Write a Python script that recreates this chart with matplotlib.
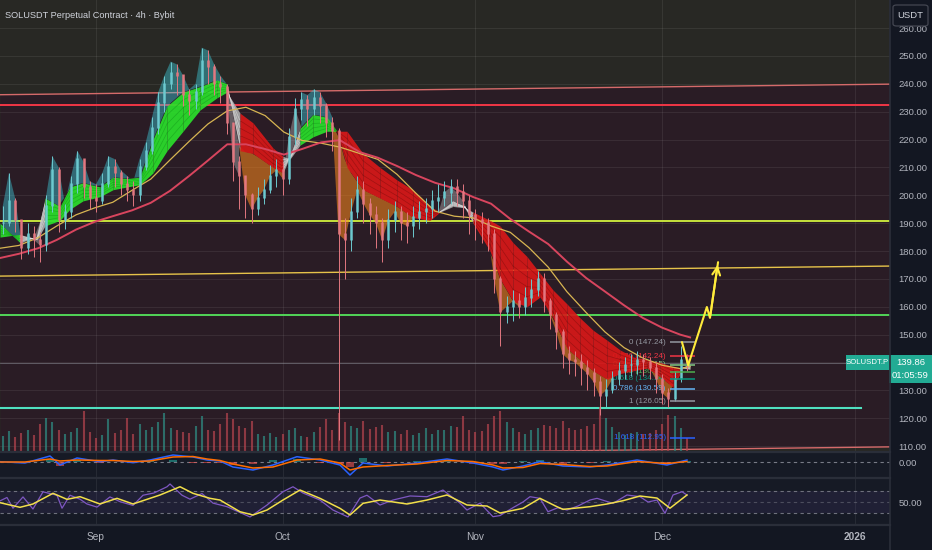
import matplotlib
matplotlib.use("Agg")
import matplotlib.pyplot as plt
import matplotlib.dates as mdates
import numpy as np
from datetime import datetime
from matplotlib.patches import Rectangle, FancyBboxPatch
from matplotlib.lines import Line2D

plt.rcParams['font.family'] = ['Liberation Sans Narrow', 'Liberation Sans', 'DejaVu Sans']

# ---------------- data ----------------
start_date = datetime(2025, 8, 17)   # day 0 of the daily series

close = [190,198,191,181,186,184,182,196,209,191,
         194,204,213,203,199,198,204,210,208,204,
         202,200,210,216,224,233,240,244,243,236,
         234,237,248,246,240,239,226,212,207,200,
         195,199,202,207,209,206,221,231,234,231,
         235,232,226,223,186,184,194,202,197,193,
         190,184,191,194,190,189,192,194,195,198,
         199,201,203,201,198,193,191,190,186,170,
         158,160,162,160,163,166,170,162,157,151,
         143,141,140,138,136,133,128,130,134,137,
         139,139,141,140,138,134,129,127,134,141,139.86]
high = [196,208,199,190,190,189,187,200,214,210,
        197,207,216,212,205,204,208,214,213,209,
        207,205,213,219,228,237,243,248,247,243,
        238,240,253,252,247,243,240,226,214,207,
        201,203,206,211,213,212,224,235,237,236,
        238,237,233,228,224,192,199,207,205,199,
        196,192,195,198,196,194,196,198,199,202,
        204,205,206,206,204,200,195,194,192,188,
        171,164,166,165,167,170,173,172,163,158,
        152,146,144,143,141,138,135,134,137,140,
        142,143,144,143,142,140,136,131,137,146,143]
low = [186,189,187,177,179,178,176,180,194,187,
       188,192,201,199,195,194,197,203,203,200,
       198,196,198,209,215,222,230,238,236,232,
       229,231,236,240,236,233,222,205,195,192,
       190,193,197,201,203,200,204,218,227,225,
       229,226,221,216,112,170,180,192,190,186,
       181,176,181,187,184,183,185,188,190,192,
       194,196,197,196,192,186,184,183,180,165,
       146,154,155,156,157,160,164,158,152,145,
       138,136,135,132,130,128,121,124,129,132,
       134,135,136,135,134,129,125,124,126,133,137]
volume = [16,21,15,19,22,17,28,34,30,22,
          18,20,24,41,20,14,17,33,19,22,
          34,18,28,22,25,30,39,24,22,20,
          19,26,36,22,21,28,39,33,26,24,
          31,18,16,19,15,18,22,24,16,15,
          20,25,33,22,39,30,26,24,31,23,
          25,27,20,21,18,22,17,19,24,18,
          22,22,26,25,36,22,20,21,28,36,
          41,30,24,20,18,22,24,27,26,24,
          31,24,22,23,26,28,45,34,25,20,
          17,19,20,18,19,22,28,37,36,24,14]

ma_days = [-0.4,2.6,5.7,8.7,11.8,14.8,17.7,20.8,23.8,26.9,30,33,36.1,39.1,42.2,45.2,48.1,51.2,54.2,
           57.4,60.3,63.4,66.4,69.5,72.6,75.6,78.5,81.6,84.6,87.7,90.7,93.8,96.8,99.9,102.9,106,108.9,110.5]
ema_yellow = [181,182,184.8,189,193,195.5,197.5,201.8,205.8,212.7,219.4,225.6,230.3,231.6,228.6,222.7,
              219.7,218.7,217.3,215,212.9,207.5,200.8,194.3,192.5,191.9,189,186.7,181.2,174.2,165.4,
              157.9,151,145.3,141.6,139,137.8,138.5]
ema_red = [177.5,179,181,184,187.7,190.5,192.5,194.6,197.3,201.6,207,212.5,218.3,218.3,216.6,214.6,
           216.6,219,219.8,215.5,213.5,210.5,207.3,204.5,202.5,199.4,197,191.5,187,182.5,176.2,170.3,
           165.5,160.5,156,152.5,150,149]

rib_days = [-0.43,2.78,5.52,6.80,9.22,10.82,12.91,15.65,17.73,19.98,22.07,24.16,26.42,28.99,31.72,
            34.45,36.06,38.15,40.24,43.45,45.06,46.19,47.80,49.89,52.14,53.74,55.35,57.92,60.66,
            63.39,65.96,68.70,70.30,72.39,74.32,75.61,78.34,79.95,82.04,84.29,86.38,88.47,90.72,
            92.81,94.90,97.15,99.24,101.33,103.58,105.67,107.76,109.36,110.49]
rib_fast = [190,183,185,199,196,203,204.5,203,206.5,206,206.5,220,232,237,239,241.4,240,216,215,210,
            208,214,224,229,228,223,210,202,199,196,192,191,194,198,196,190,180,170,162,160,163.5,
            156,145,141,137,134,136,137,138,135,131,138,139.5]
rib_slow = [185,186,184,189,191,195,198,199.5,202,203,203.8,208,216,223,230.6,235,237,229.5,226,217,
            214,213,218,221,223,223,223,215,210,205.5,202,196,194,196,195.5,194,191,189,183,178,172,
            166,161,156,151.6,148,144.5,142,141,140,138.5,138,137.5]
rib_trend = ['g','w','w','g','g','g','g','g','g','g','g','g','g','g','g','g','w','r','r','r',
             'w','w','g','g','g','r','r','r','r','r','r','r','w','w','w','r','r','r','r','r',
             'r','r','r','r','r','r','r','r','r','r','r','w','w']

macd_days = [-0.43,3.59,7.61,9.21,11.95,15.64,17.73,20.95,23.68,27.38,30.59,32.85,34.93,37.02,40.24,
             43.45,47.31,51.01,54.22,55.83,57.92,61.78,66.60,71.43,75.60,78.82,80.43,83.64,86.37,
             90.07,94.41,97.15,101.97,106.79,110.0]
macd_line = [0.3,-1,6,-3,4,0.3,2,-0.7,2,7,5,2,1,-5,-8,-3,5.3,2,-3,-13,-1,-4,-1,3,-1,-5,-8,-4,0.3,
             -4,-5,-3,2,-3,2]
macd_signal = [0,0,3,1,2,1.5,1.5,0.5,1,5,5.5,3,1.5,-2,-6,-5,2,3,-1,-8,-5,-3.5,-2,1.5,0.5,-3,-6,
               -5.5,-1.5,-2.5,-4.5,-4,0.5,-1.5,0.5]

rsi_days = [-0.43,0.69,1.66,3.27,4.87,6.48,8.73,9.54,10.82,12.43,13.55,15.16,17.25,18.86,20.95,
            22.56,24.33,26.42,26.90,28.83,30.11,32.04,33.81,36.06,39.76,42.49,45.06,46.67,48.28,
            51.01,53.10,55.51,57.44,58.56,60.66,62.74,65.48,68.21,70.78,73.51,74.64,76.73,78.82,
            79.95,82.04,83.64,84.77,86.37,87.66,89.27,90.72,92.48,94.41,95.54,96.83,98.11,100.36,
            102.45,103.74,105.18,106.47,107.76,109.20,110.0]
rsi_vals = [52,58,39,59,37.6,68,62,39,62,55,46.5,41,59,50.6,44,62,66,77,81.9,62,55,65,48,41.7,23.5,
            44.7,68.2,77,65.9,53.5,35.8,23.5,57,62,44.7,53.5,60.7,59.4,71.2,48,35.8,48,24,26,40,50,
            59.4,56.5,32.8,40,35.8,43,53.5,56.5,52,47.6,62.4,59.4,50,53.5,30,62.4,68.2,62.4]
rsi_ma_days = [-0.43,2.78,4.87,8.09,10.34,12.43,15.64,18.38,20.95,23.68,25.29,28.51,30.59,33.33,
               34.93,38.15,40.24,42.49,45.06,47.80,51.01,54.22,55.83,57.92,60.66,65.00,68.21,71.43,
               74.64,77.86,79.95,83.64,86.37,89.10,90.07,94.41,97.15,99.72,102.45,105.18,107.27,110.0]
rsi_ma_vals = [48.8,40.6,46.5,65.4,54.7,59.4,46.5,56.5,46.5,56.5,62.4,77,65.4,56.5,53.5,32.8,27,35.8,
               53.5,71.2,56.5,38.8,27,47.6,53.5,46.5,53.5,62.4,44.7,42.9,30.5,38.8,56.5,41.7,37,41.7,
               46.5,52.3,60.6,57,39,62.4]

# drawn levels / trend lines
chan_days = [-0.43, 142.64]
chan_top = [236.1, 239.9]
chan_bot = [105.8, 109.7]
gold_days = [-0.43, 142.64]
gold_vals = [171.0, 174.6]
red_level = 232.3
yellowgreen_level = 190.8
green_level = 157.1
teal_level = 123.6
teal_end_day = 138.0
last_price = 139.86

fib_ratios = ['0', '0.236', '0.382', '0.5', '0.618', '0.786', '1', '1.618']
fib_prices = [147.24, 142.24, 139.15, 136.65, 134.14, 130.59, 126.05, 112.95]
fib_colors = ['#9598a1', '#f23645', '#81c784', '#4caf50', '#089981', '#64b5f6', '#9598a1', '#2962ff']

arrow_days = [109.2, 110.2, 113.2, 113.7, 115.0]
arrow_prices = [147.3, 139.0, 159.9, 156.0, 176.0]

tick_dates = ['2025-09-01', '2025-10-01', '2025-11-01', '2025-12-01', '2026-01-01']
tick_labels = ['Sep', 'Oct', 'Nov', 'Dec', '2026']
price_ticks = list(range(110, 261, 10))

# ---------------- figure ----------------
W, H = 932, 550
fig = plt.figure(figsize=(W / 100, H / 100), dpi=100, facecolor='#131722')

def box(x0, y0, x1, y1):
    return [x0 / W, 1 - y1 / H, (x1 - x0) / W, (y1 - y0) / H]

def fx(x):
    return x / W

def fy(y):
    return 1 - y / H

X0 = mdates.date2num(start_date)
XL = (X0 - 0.43, X0 + 142.64)
month_x = [mdates.date2num(datetime.strptime(s, '%Y-%m-%d')) for s in tick_dates]

ax = fig.add_axes(box(0, 0, 890, 452))
ax_m = fig.add_axes(box(0, 452, 890, 478))
ax_r = fig.add_axes(box(0, 478, 890, 525))

for a in (ax, ax_m, ax_r):
    a.set_xlim(*XL)
    for s in a.spines.values():
        s.set_visible(False)
    a.set_xticks(month_x)
    a.grid(axis='x', color='#ffffff', alpha=0.07, lw=0.8)
    a.set_axisbelow(True)

ax.set_facecolor('#282824')
ax_m.set_facecolor('#161a25')
ax_r.set_facecolor('#161a25')

# ---------------- main price panel ----------------
ax.set_ylim(107.86, 270.10)
ax.set_yticks(price_ticks)
# the 140.00 label sits under the last-price tag in the reference
ax.set_yticklabels(['' if abs(v - last_price) < 4 else f'{v:.2f}' for v in price_ticks])
ax.tick_params(axis='y', left=False, right=False, labelleft=False, labelright=True,
               length=0, pad=6, labelsize=6.8, labelcolor='#b2b5be')
ax.tick_params(axis='x', length=0, labelbottom=False)
ax.grid(axis='y', color='#ffffff', alpha=0.07, lw=0.8)

cx = X0 + np.array(chan_days)
ax.fill_between(cx, chan_bot, chan_top, color='#2a1c25', lw=0, zorder=0.2)
ax.plot(cx, chan_top, color='#d56a6a', lw=1.0, zorder=1)
ax.plot(cx, chan_bot, color='#d56a6a', lw=1.0, zorder=1)
ax.axhline(red_level, color='#f23645', lw=1.4, zorder=1)
ax.axhline(yellowgreen_level, color='#c6e23c', lw=1.4, zorder=1)
ax.plot(X0 + np.array(gold_days), gold_vals, color='#e6c34a', lw=1.0, zorder=1)
ax.axhline(green_level, color='#52d658', lw=1.4, zorder=1)
ax.plot([X0 - 0.43, X0 + teal_end_day], [teal_level, teal_level], color='#4fe0c0', lw=1.5, zorder=1)
ax.axhline(last_price, color='#9598a1', lw=0.6, alpha=0.6, zorder=1)

close = np.array(close, float)
high = np.array(high, float)
low = np.array(low, float)
volume = np.array(volume, float)
days = np.arange(len(close))
X = X0 + days
opn = np.r_[close[0], close[:-1]]
up = close >= opn

# volume (bottom of the price panel)
vcol = np.where(up, '#2f8f86', '#b8454f')
ax.vlines(X, 0, volume / 452.0, transform=ax.get_xaxis_transform(), colors=vcol,
          lw=1.5, alpha=0.7, zorder=1.5)

# hatching between price and ribbon
rd = np.array(rib_days)
ra = np.array(rib_fast, float)
rb = np.array(rib_slow, float)
a_d = np.interp(days, rd, ra)
seg = np.clip(np.searchsorted(rd, days, side='right') - 1, 0, len(rd) - 2)
tr = np.array(rib_trend)[seg]
ax.fill_between(X, a_d, high, where=(tr == 'g') & (high > a_d), interpolate=True,
                color='#3fd2e2', alpha=0.42, lw=0, zorder=2.4)
ax.fill_between(X, a_d, close, where=(tr == 'r') & (close < a_d), interpolate=True,
                color='#ff8a1c', alpha=0.55, lw=0, zorder=2.4)
ax.fill_between(X, a_d, close, where=(tr == 'w'), interpolate=True,
                color='#d8d8d8', alpha=0.35, lw=0, zorder=2.4)

# fib labels (behind candles)
for r, p, c in zip(fib_ratios, fib_prices, fib_colors):
    ax.text(X0 + 106.6, p, f'{r} ({p:.2f})', ha='right', va='center', color=c,
            fontsize=5.8, zorder=2.6)

# ribbon
rx = X0 + rd
fillc = {'g': '#2be02b', 'r': '#d81818', 'w': '#a9a9a9'}
linec = {'g': '#12961a', 'r': '#7d0c0c', 'w': '#efefef'}
for i in range(len(rx) - 1):
    t = rib_trend[i]
    xs = rx[i:i + 2]
    a2 = ra[i:i + 2]
    b2 = rb[i:i + 2]
    ax.fill_between(xs, a2, b2, color=fillc[t], lw=0, alpha=0.92, zorder=3)
    for f in (0.2, 0.4, 0.6, 0.8):
        ax.plot(xs, a2 + f * (b2 - a2), color=linec[t], lw=0.5, alpha=0.55, zorder=3.1)

# moving averages
mx = X0 + np.array(ma_days)
ax.plot(mx, ema_yellow, color='#d8b552', lw=0.9, zorder=3.5)
ax.plot(mx, ema_red, color='#d8455e', lw=1.4, zorder=3.5)

# candles
ccol = np.where(up, '#6cc9cf', '#e27780')
ax.vlines(X, low, high, colors=ccol, lw=0.7, zorder=4)
ax.vlines(X, np.minimum(opn, close), np.maximum(opn, close) + 0.4, colors=ccol, lw=1.8, zorder=4)

# fib lines
ax.hlines(fib_prices, X0 + 107.3, X0 + 111.3, colors=fib_colors, lw=1.1, zorder=5)

# projected path
axd = X0 + np.array(arrow_days)
ax.plot(axd, arrow_prices, color='#ffeb3b', lw=1.5, zorder=6, solid_capstyle='round')
ax.annotate('', xy=(axd[-1], arrow_prices[-1]), xytext=(axd[-2], arrow_prices[-2]),
            arrowprops=dict(arrowstyle='->', color='#ffeb3b', lw=1.5, mutation_scale=14),
            zorder=6)

# ---------------- MACD panel ----------------
ax_m.set_ylim(-16, 10)
ax_m.axhline(0, color='#787b86', lw=0.8, ls=(0, (3, 3)), zorder=1)
mdx = X0 + np.array(macd_days)
hist = np.array(macd_line) - np.array(macd_signal)
ax_m.bar(mdx, hist, width=1.2, color=np.where(hist >= 0, '#26a69a', '#ef5350'), alpha=0.6, zorder=2)
ax_m.plot(mdx, macd_line, color='#2962ff', lw=1.1, zorder=3)
ax_m.plot(mdx, macd_signal, color='#ff6d00', lw=1.1, zorder=3)
ax_m.set_yticks([0])
ax_m.set_yticklabels(['0.00'])
ax_m.tick_params(axis='y', left=False, labelleft=False, labelright=True, length=0, pad=6,
                 labelsize=6.8, labelcolor='#b2b5be')
ax_m.tick_params(axis='x', length=0, labelbottom=False)

# ---------------- RSI panel ----------------
ax_r.set_ylim(9.3, 92.5)
ax_r.axhspan(30, 70, color='#7e57c2', alpha=0.1, lw=0, zorder=0.6)
for lvl, al in ((70, 0.9), (50, 0.5), (30, 0.9)):
    ax_r.axhline(lvl, color='#787b86', lw=0.8, ls=(0, (3, 3)), alpha=al, zorder=1)
ax_r.plot(X0 + np.array(rsi_days), rsi_vals, color='#7e57c2', lw=0.9, zorder=2)
ax_r.plot(X0 + np.array(rsi_ma_days), rsi_ma_vals, color='#f2df4a', lw=1.1, zorder=3)
ax_r.set_yticks([50])
ax_r.set_yticklabels(['50.00'])
ax_r.tick_params(axis='y', left=False, labelleft=False, labelright=True, length=0, pad=6,
                 labelsize=6.8, labelcolor='#b2b5be')
ax_r.set_xticklabels(tick_labels)
ax_r.tick_params(axis='x', length=0, pad=5, labelsize=7.3, labelcolor='#b2b5be')
ax_r.get_xticklabels()[-1].set_fontweight('bold')

# ---------------- separators & overlays ----------------
for yy in (452, 478, 525):
    fig.add_artist(Line2D([0, fx(890)], [fy(yy), fy(yy)], transform=fig.transFigure,
                          color='#2a2e39', lw=1.6))
fig.add_artist(Line2D([fx(890), fx(890)], [0, 1], transform=fig.transFigure,
                      color='#2a2e39', lw=1.2))

fig.text(fx(5), fy(15), 'SOLUSDT Perpetual Contract · 4h · Bybit', fontsize=6.6,
         color='#d1d4dc', va='center', ha='left')

fig.add_artist(FancyBboxPatch((fx(893), fy(26)), fx(35), 21 / H,
                              boxstyle='round,pad=0,rounding_size=0.004',
                              transform=fig.transFigure, fc='#131722', ec='#434651', lw=0.9))
fig.text(fx(910.5), fy(15.5), 'USDT', fontsize=6.8, color='#d1d4dc', ha='center', va='center')

fig.add_artist(Rectangle((fx(846), fy(370)), fx(43), 15 / H, transform=fig.transFigure,
                         fc='#22ab94', ec='none'))
fig.text(fx(867.5), fy(362.5), 'SOLUSDT.P', fontsize=5.6, color='white', ha='center', va='center')
fig.add_artist(Rectangle((fx(889), fy(383)), fx(43), 28 / H, transform=fig.transFigure,
                         fc='#22ab94', ec='none'))
fig.text(fx(910.5), fy(362.5), f'{last_price:.2f}', fontsize=6.8, color='white', ha='center', va='center')
fig.text(fx(910.5), fy(376), '01:05:59', fontsize=6.8, color='white', ha='center', va='center')

fig.savefig('out.png', dpi=100, facecolor=fig.get_facecolor())
